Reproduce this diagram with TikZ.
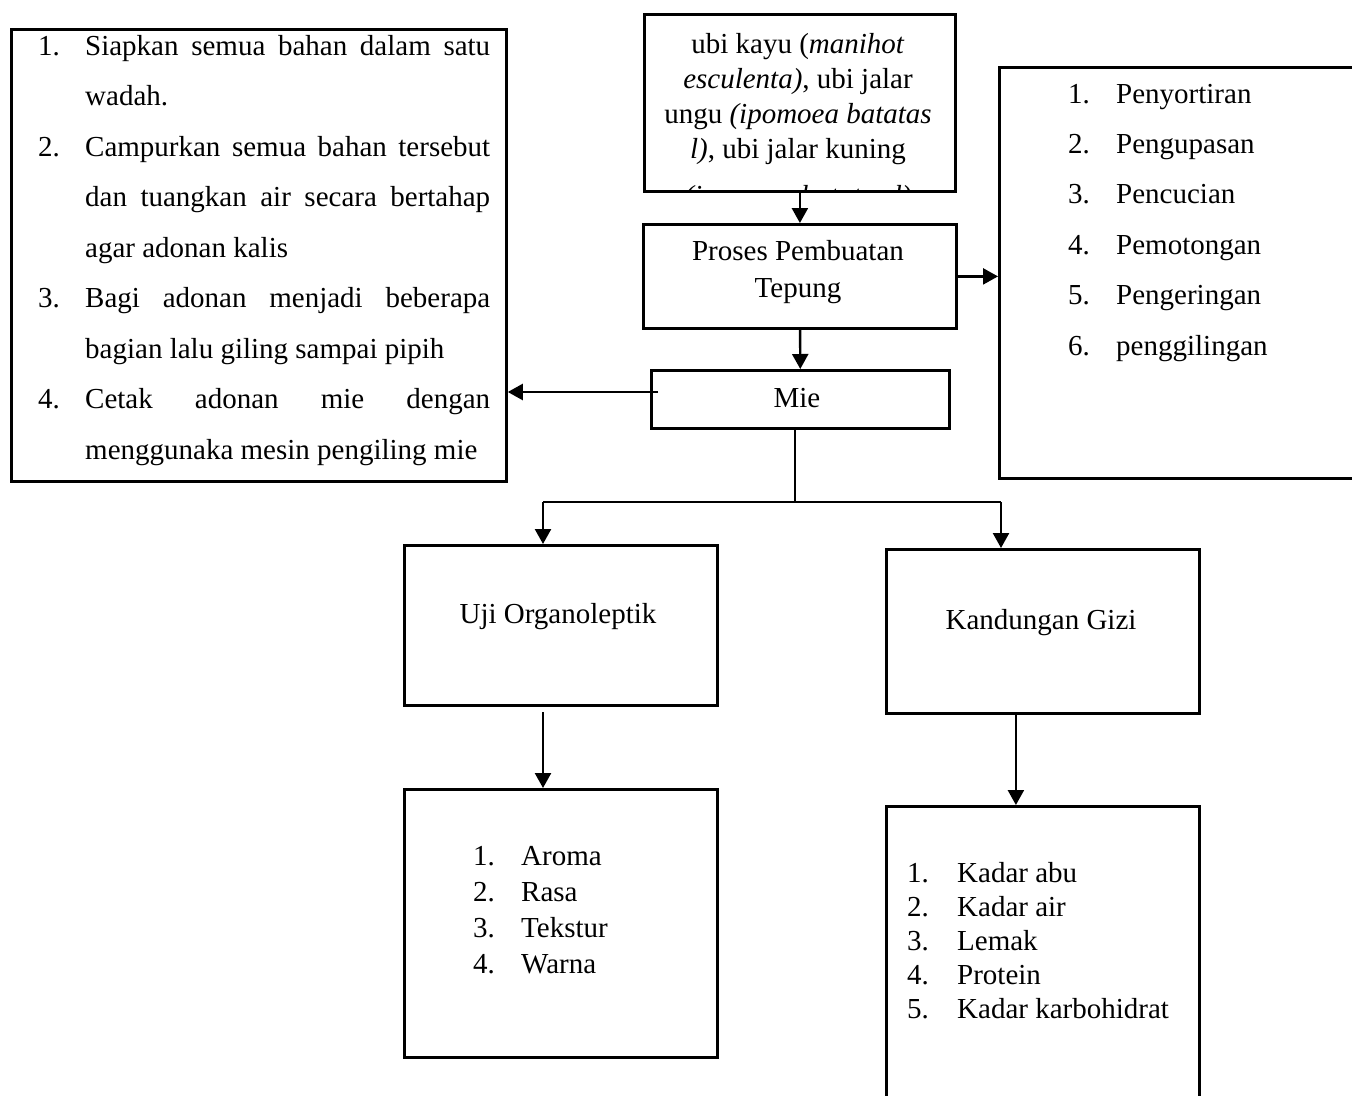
\documentclass[tikz,border=0pt]{standalone}
\usepackage{fontspec}
\setmainfont{Liberation Serif}
\usetikzlibrary{arrows.meta}

\tikzset{
	box/.style={draw, line width=2.8pt, inner sep=0pt, anchor=north west},
	line/.style={line width=2.4pt},
	thinline/.style={line width=1.4pt},
	txt/.style={inner sep=0pt, anchor=base},
}

\begin{document}
\begin{tikzpicture}[>={Triangle[width=16pt,length=15pt]}, x=1pt, y=-1pt,
	font=\fontsize{29}{35}\selectfont]
	\useasboundingbox (0,0) rectangle (1352,1095);
	\clip (0,0) rectangle (1352,1095);

	\node[box, minimum width=311, minimum height=177] (bahan) at (643,13) {};
	\node[box, minimum width=313, minimum height=104] (proses) at (642,223) {};
	\node[box, minimum width=298, minimum height=58] (mie) at (650,369) {};
	\node[box, minimum width=495, minimum height=452] (adonan) at (10,28) {};
	\node[box, minimum width=400, minimum height=411] (sortir) at (998,66) {};
	\node[box, minimum width=313, minimum height=160] (uji) at (403,544) {};
	\node[box, minimum width=313, minimum height=268] (ujilist) at (403,788) {};
	\node[box, minimum width=313, minimum height=164] (gizi) at (885,548) {};
	\node[box, minimum width=313, minimum height=330] (gizilist) at (885,805) {};

	% bahan baku, text cut off by the box
	\begin{scope}
		\clip (bahan.north west) rectangle (bahan.south east);
		\node[txt] (bahantext) at (798,53) {\begin{tabular}[t]{@{}c@{}}
			ubi kayu (\textit{manihot}\\
			\textit{esculenta)}, ubi jalar\\
			ungu \textit{(ipomoea batatas}\\
			\textit{l)}, ubi jalar kuning\\[12pt]
			\textit{(ipomoea batatas l)}
		\end{tabular}};
	\end{scope}

	\node[txt] (prosestext) at (798,260) {\fontsize{29}{37}\selectfont
		\begin{tabular}[t]{@{}c@{}}Proses Pembuatan\\Tepung\end{tabular}};
	\node[txt] (mietext) at (797,407) {Mie};
	\node[txt] (ujitext) at (558,623) {Uji Organoleptik};
	\node[txt] (gizitext) at (1041,629) {Kandungan Gizi};

	\node[txt, anchor=base west] (adonantext) at (38,55) {\fontsize{29}{50.5}\selectfont
		\begin{tabular}[t]{@{}p{47pt}@{}l@{}}
			1. & \makebox[405pt][s]{Siapkan semua bahan dalam satu}\\
			   & wadah.\\
			2. & \makebox[405pt][s]{Campurkan semua bahan tersebut}\\
			   & \makebox[405pt][s]{dan tuangkan air secara bertahap}\\
			   & agar adonan kalis\\
			3. & \makebox[405pt][s]{Bagi adonan menjadi beberapa}\\
			   & bagian lalu giling sampai pipih\\
			4. & \makebox[405pt][s]{Cetak adonan mie dengan}\\
			   & menggunaka mesin pengiling mie
		\end{tabular}};

	\node[txt, anchor=base west] (sortirtext) at (1068,103) {\fontsize{29}{50.4}\selectfont
		\begin{tabular}[t]{@{}p{48pt}@{}l@{}}
			1. & Penyortiran\\
			2. & Pengupasan\\
			3. & Pencucian\\
			4. & Pemotongan\\
			5. & Pengeringan\\
			6. & penggilingan
		\end{tabular}};

	\node[txt, anchor=base west] (ujilisttext) at (473,865) {\fontsize{29}{36.3}\selectfont
		\begin{tabular}[t]{@{}p{48pt}@{}l@{}}
			1. & Aroma\\
			2. & Rasa\\
			3. & Tekstur\\
			4. & Warna
		\end{tabular}};

	\node[txt, anchor=base west] (gizilisttext) at (907,882) {\fontsize{29}{34.2}\selectfont
		\begin{tabular}[t]{@{}p{50pt}@{}l@{}}
			1. & Kadar abu\\
			2. & Kadar air\\
			3. & Lemak\\
			4. & Protein\\
			5. & Kadar karbohidrat
		\end{tabular}};

	% connectors
	\coordinate (mieout) at (658,392);
	\coordinate (cabang) at (795,502);
	\coordinate (cabangkiri) at (543,502);
	\coordinate (cabangkanan) at (1001,502);
	\coordinate (ujibawah) at (543,712);

	\draw[line, ->] (bahan) -- (proses);
	\draw[line, ->] (proses) -- (mie);
	\draw[line, ->] (proses.east) -- (proses.east -| sortir.west);
	\draw[line, ->] (mieout) -- (mieout -| adonan.east);
	\draw[thinline] (cabang |- mie.south) -- (cabang);
	\draw[thinline] (cabangkiri) -- (cabangkanan);
	\draw[line, ->] (cabangkiri) -- (cabangkiri |- uji.north);
	\draw[line, ->] (cabangkanan) -- (cabangkanan |- gizi.north);
	\draw[line, ->] (ujibawah) -- (ujibawah |- ujilist.north);
	\draw[line, ->] ([xshift=-27pt]gizi.south) -- ([xshift=-27pt]gizilist.north);
\end{tikzpicture}
\end{document}
